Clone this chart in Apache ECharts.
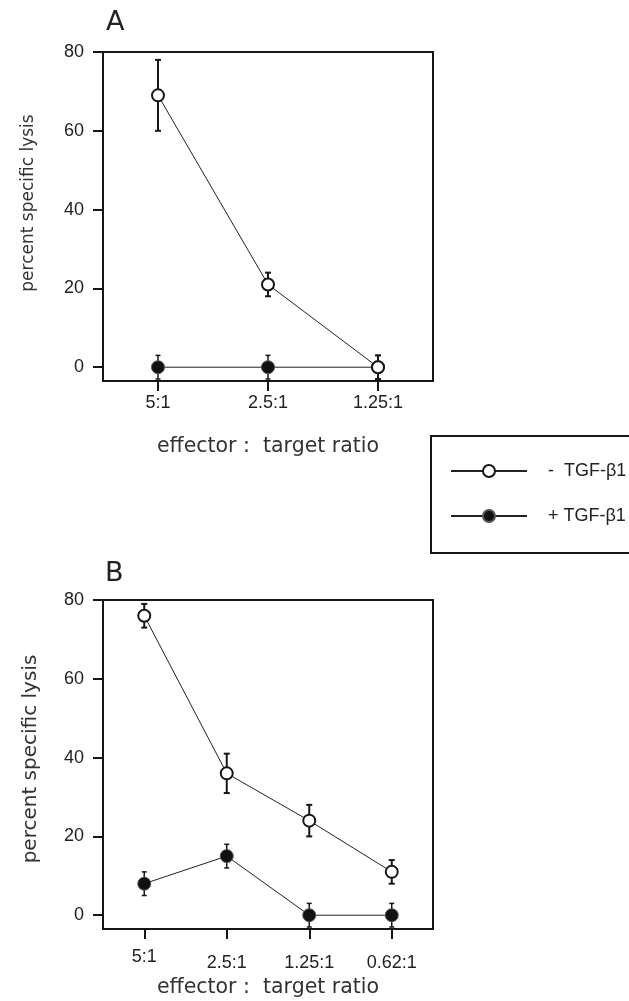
<!DOCTYPE html>
<html><head><meta charset="utf-8">
<script src="https://cdn.jsdelivr.net/npm/echarts@6/dist/echarts.min.js"></script>
<style>html,body{margin:0;padding:0;background:#fff}#c{width:629px;height:1001px}</style>
</head><body><div id="c"></div>
<script>
// ---- data ----
const catsA = ['5:1', '2.5:1', '1.25:1'];
const catsB = ['5:1', '2.5:1', '1.25:1', '0.62:1'];
const yTicks = [0, 20, 40, 60, 80];
const openA = [69, 21, 0];
const openAErr = [9, 3, 3];
const closedA = [0, 0, 0];
const closedAErr = [3, 3, 3];
const openB = [76, 36, 24, 11];
const openBErr = [3, 5, 4, 3];
const closedB = [8, 15, 0, 0];
const closedBErr = [3, 3, 3, 3];
const nameMinus = '-  TGF-β1';
const namePlus = '+ TGF-β1';
const yTitle = 'percent specific lysis';
const xTitle = 'effector :  target ratio';

// ---- helpers ----
const INK = '#161616';
const tickFont = 'Liberation Sans, Arial, sans-serif';
const titleFont = 'DejaVu Sans, sans-serif';

function errData(vals, errs) {
  return vals.map((v, i) => [i, v - errs[i], v + errs[i]]);
}
function errRender(capHalf, width) {
  return function (params, api) {
    const x = api.value(0);
    const pLo = api.coord([x, api.value(1)]);
    const pHi = api.coord([x, api.value(2)]);
    const style = { stroke: INK, lineWidth: width };
    return {
      type: 'group',
      children: [
        { type: 'line', shape: { x1: pHi[0], y1: pHi[1], x2: pLo[0], y2: pLo[1] }, style: style },
        { type: 'line', shape: { x1: pHi[0] - capHalf, y1: pHi[1], x2: pHi[0] + capHalf, y2: pHi[1] }, style: style },
        { type: 'line', shape: { x1: pLo[0] - capHalf, y1: pLo[1], x2: pLo[0] + capHalf, y2: pLo[1] }, style: style }
      ]
    };
  };
}
function errSeries(name, idx, vals, errs, capHalf, width) {
  return {
    type: 'custom', name: name, xAxisIndex: idx, yAxisIndex: idx, z: 1,
    renderItem: errRender(capHalf, width),
    encode: { x: 0, y: [1, 2] },
    data: errData(vals, errs)
  };
}
function lineSeries(name, idx, vals, open) {
  return {
    type: 'line', name: name, xAxisIndex: idx, yAxisIndex: idx, z: 3,
    data: vals,
    symbol: open ? 'emptyCircle' : 'circle',
    symbolSize: open ? 12 : 13,
    itemStyle: open ? { color: INK, borderWidth: 2 } : { color: '#111', borderColor: '#555', borderWidth: 1 },
    lineStyle: { color: '#222', width: 1 },
    emphasis: { disabled: true }
  };
}
function yAxis(idx, fs, gap, shift) {
  return {
    type: 'value', gridIndex: idx, min: -3.5, max: 80,
    splitLine: { show: false },
    axisLine: { show: true, onZero: false, lineStyle: { color: INK, width: 2 } },
    axisTick: { show: true, customValues: yTicks, length: 10, lineStyle: { color: INK, width: 2 } },
    axisLabel: { customValues: yTicks, margin: 19, fontSize: 18, color: '#222', fontFamily: tickFont },
    name: yTitle, nameLocation: 'middle', nameGap: gap,
    nameTextStyle: { fontSize: fs, color: '#333', fontFamily: titleFont, padding: [0, 0, 0, shift] }
  };
}
function xAxis(idx, cats, labelOpts, gap) {
  return {
    type: 'category', gridIndex: idx, data: cats, boundaryGap: true,
    axisLine: { show: true, onZero: false, lineStyle: { color: INK, width: 2 } },
    axisTick: { show: true, alignWithLabel: true, length: 10, lineStyle: { color: INK, width: 2 } },
    axisLabel: Object.assign({ interval: 0, fontSize: 18, color: '#222', fontFamily: tickFont }, labelOpts),
    splitLine: { show: false },
    name: xTitle, nameLocation: 'middle', nameGap: gap,
    nameTextStyle: { fontSize: 20.5, color: '#333', fontFamily: titleFont }
  };
}

const chart = echarts.init(document.getElementById('c'), null, { renderer: 'canvas' });
chart.setOption({
  animation: false,
  backgroundColor: '#fff',
  title: [
    { text: 'A', left: 106, top: 9, padding: 0, textStyle: { fontSize: 27, fontWeight: 'normal', fontFamily: titleFont, color: '#222' } },
    { text: 'B', left: 105, top: 560, padding: 0, textStyle: { fontSize: 27, fontWeight: 'normal', fontFamily: titleFont, color: '#222' } }
  ],
  legend: {
    orient: 'vertical', left: 431, top: 436,
    data: [nameMinus, namePlus],
    itemWidth: 76, itemHeight: 15, itemGap: 27,
    borderColor: INK, borderWidth: 2, borderRadius: 0,
    padding: [26, 40, 28, 19],
    selectedMode: false,
    textStyle: { fontSize: 18, color: '#222', fontFamily: tickFont, padding: [0, 0, 0, 16] }
  },
  grid: [
    { left: 103, top: 52, width: 330, height: 329, show: true, borderColor: INK, borderWidth: 2, backgroundColor: 'transparent' },
    { left: 103, top: 600, width: 330, height: 329, show: true, borderColor: INK, borderWidth: 2, backgroundColor: 'transparent' }
  ],
  xAxis: [
    xAxis(0, catsA, { margin: 13 }, 55),
    xAxis(1, catsB, {
      margin: 19,
      formatter: function (v, i) { return i === 0 ? '{a|' + v + '}' : '{b|' + v + '}'; },
      rich: {
        a: { fontSize: 18, color: '#222', fontFamily: tickFont },
        b: { fontSize: 18, color: '#222', fontFamily: tickFont, padding: [6, 0, 0, 0] }
      }
    }, 48)
  ],
  yAxis: [yAxis(0, 17, 66, 27), yAxis(1, 20, 62, 11)],
  series: [
    errSeries('errClosedA', 0, closedA, closedAErr, 2.5, 1.5),
    errSeries('errOpenA', 0, openA, openAErr, 3, 2),
    lineSeries(namePlus, 0, closedA, false),
    lineSeries(nameMinus, 0, openA, true),
    errSeries('errClosedB', 1, closedB, closedBErr, 2.5, 1.5),
    errSeries('errOpenB', 1, openB, openBErr, 3, 2),
    lineSeries(namePlus, 1, closedB, false),
    lineSeries(nameMinus, 1, openB, true)
  ]
});
</script>
</body></html>
